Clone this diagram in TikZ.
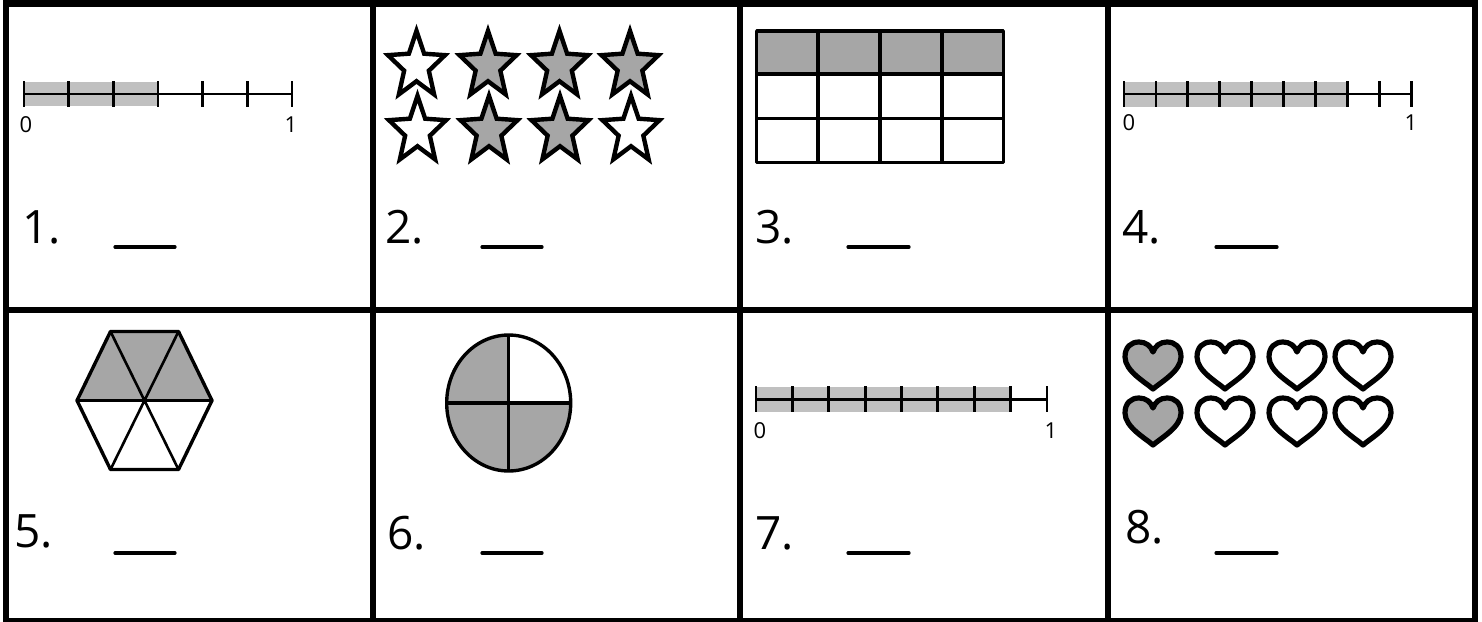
\documentclass[tikz,border=0pt]{standalone}
\usepackage{fontspec}
\setmainfont{Open Sans}
\usepackage{xcolor}
\usepackage{tikz}
\usetikzlibrary{positioning}

\definecolor{lightshade}{HTML}{C0C0C0}
\definecolor{darkshade}{HTML}{A6A6A6}

\begin{document}
\begin{tikzpicture}[
  x=0.5pt, y=-0.5pt,
  frame/.style={line width=3pt},
  nline/.style={line width=1.4pt},
  shapeline/.style={line width=1.7pt, line join=round},
  innerline/.style={line width=1.3pt},
  qlabel/.style={font=\fontsize{23}{23}\selectfont, inner sep=0pt, anchor=base west},
  ends/.style={font=\fontsize{11}{11}\selectfont, inner sep=0pt, anchor=base},
  blank/.style={line width=1.6pt, line cap=round},
  fivestar/.pic={
    \draw[line width=2.2pt, yscale=1.17, pic actions]
      (-90:30) -- (-54:13) -- (-18:30) -- (18:13) -- (54:30) -- (90:13)
      -- (126:30) -- (162:13) -- (198:30) -- (234:13) -- cycle;
  },
  heartpic/.pic={
    \draw[line width=2.6pt, line join=round, pic actions]
      (0,22) .. controls (-8,15) and (-28,4) .. (-28,-10)
      .. controls (-28,-20) and (-22,-25) .. (-14,-25)
      .. controls (-7,-25) and (-2,-21) .. (0,-15)
      .. controls (2,-21) and (7,-25) .. (14,-25)
      .. controls (22,-25) and (28,-20) .. (28,-10)
      .. controls (28,4) and (8,15) .. (0,22) -- cycle;
  },
]
\useasboundingbox (0,0) rectangle (1482,621);

% ===== 1: number line in sixths =====
\begin{scope}
  \fill[lightshade] (24,82) rectangle (158,106);
  \draw[nline] (24,94) -- (292,94);
  \foreach \i in {0,...,6} \draw[nline] ({24+44.67*\i},81) -- ++(0,26);
  \node[ends] (zero1) at (26,132) {0};
  \node[ends] (one1) at (291,132) {1};
  \node[qlabel] (q1) at (22,243) {1.};
  \draw[blank] (115,247) -- (175,247);
\end{scope}

% ===== 2: stars =====
\begin{scope}[shift={(367,0)}]
  \pic[fill=white] at (49.5,66) {fivestar};
  \pic[fill=darkshade] at (121,66) {fivestar};
  \pic[fill=darkshade] at (192.5,66) {fivestar};
  \pic[fill=darkshade] at (263,66) {fivestar};
  \pic[fill=white] at (50.5,131) {fivestar};
  \pic[fill=darkshade] at (122,131) {fivestar};
  \pic[fill=darkshade] at (193,131) {fivestar};
  \pic[fill=white] at (264,131) {fivestar};
  \node[qlabel] (q2) at (18,243) {2.};
  \draw[blank] (115,247) -- (175,247);
\end{scope}

% ===== 3: array =====
\begin{scope}[shift={(734,0)}]
  \fill[darkshade] (22.7,31) rectangle (269.3,74);
  \draw[shapeline] (22.7,31) rectangle (269.3,162.3);
  \draw[shapeline] (84,31) -- (84,162.3) (146,31) -- (146,162.3) (208,31) -- (208,162.3);
  \draw[shapeline] (22.7,74) -- (269.3,74) (22.7,118.3) -- (269.3,118.3);
  \node[qlabel] (q3) at (21,243) {3.};
  \draw[blank] (114,247) -- (175,247);
\end{scope}

% ===== 4: number line in ninths =====
\begin{scope}[shift={(1101,0)}]
  \fill[lightshade] (23,82) rectangle (246,107);
  \draw[nline] (23,94) -- (310,94);
  \foreach \i in {0,...,9} \draw[nline] ({23+31.9*\i},81) -- ++(0,26);
  \node[ends] (zero4) at (28,130) {0};
  \node[ends] (one4) at (310,130) {1};
  \node[qlabel] (q4) at (21,243) {4.};
  \draw[blank] (115,247) -- (176,247);
\end{scope}

% ===== 5: hexagon =====
\begin{scope}[shift={(0,306)}]
  \fill[darkshade] (77,94.5) -- (110.5,25.5) -- (178.5,25.5) -- (212,94.5) -- cycle;
  \draw[shapeline] (77,94.5) -- (110.5,25.5) -- (178.5,25.5) -- (212,94.5)
    -- (178.5,163.5) -- (110.5,163.5) -- cycle;
  \draw[innerline] (110.5,25.5) -- (178.5,163.5) (178.5,25.5) -- (110.5,163.5)
    (77,94.5) -- (212,94.5);
  \node[qlabel] (q5) at (14,241) {5.};
  \draw[blank] (115,247) -- (175,247);
\end{scope}

% ===== 6: circle in quarters =====
\begin{scope}[shift={(367,306)}]
  \fill[darkshade] (141.7,97) ellipse [x radius=62, y radius=68];
  \fill[white] (141.7,97) -- (141.7,29) arc[start angle=-90, end angle=0, x radius=62, y radius=68] -- cycle;
  \draw[shapeline] (141.7,97) ellipse [x radius=62, y radius=68];
  \draw[shapeline] (141.7,29) -- (141.7,165) (79.7,97) -- (203.7,97);
  \node[qlabel] (q6) at (20,243) {6.};
  \draw[blank] (115,247) -- (175,247);
\end{scope}

% ===== 7: number line in eighths =====
\begin{scope}[shift={(734,306)}]
  \fill[lightshade] (22,81) rectangle (277,106);
  \draw[nline] (22,93.3) -- (313,93.3);
  \foreach \i in {0,...,8} \draw[nline] ({22+36.375*\i},80) -- ++(0,26);
  \node[ends] (zero7) at (26,132) {0};
  \node[ends] (one7) at (317,132) {1};
  \node[qlabel] (q7) at (21,243) {7.};
  \draw[blank] (114,247) -- (175,247);
\end{scope}

% ===== 8: hearts =====
\begin{scope}[shift={(1101,306)}]
  \pic[fill=darkshade] at (52,61) {heartpic};
  \pic[fill=white] at (124,61) {heartpic};
  \pic[fill=white] at (196,61) {heartpic};
  \pic[fill=white] at (262,61) {heartpic};
  \pic[fill=darkshade] at (52,117) {heartpic};
  \pic[fill=white] at (124,117) {heartpic};
  \pic[fill=white] at (196,117) {heartpic};
  \pic[fill=white] at (262,117) {heartpic};
  \node[qlabel] (q8) at (24,237) {8.};
  \draw[blank] (115,247) -- (176,247);
\end{scope}

% ===== frame =====
\draw[frame] (5.5,3.5) rectangle (1475,621);
\draw[frame] (373,3.5) -- (373,621) (740,3.5) -- (740,621) (1108,3.5) -- (1108,621);
\draw[frame] (5.5,309.7) -- (1475,309.7);

\end{tikzpicture}
\end{document}
